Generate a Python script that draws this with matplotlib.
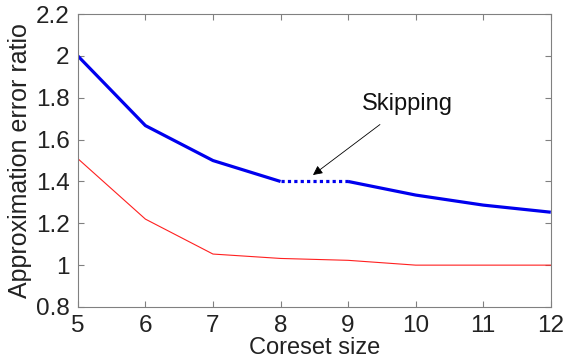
import matplotlib
matplotlib.use("Agg")
import numpy as np
import matplotlib.pyplot as plt

plt.rcParams['font.family'] = ['Liberation Sans', 'DejaVu Sans']

# coreset sizes and error ratios
sizes = [5, 6, 7, 8, 9, 10, 11, 12]
skip_ratio = [2.0, 1.667, 1.5, 1.4, 1.4, 1.335, 1.287, 1.253]
base_ratio = [1.509, 1.22, 1.053, 1.032, 1.023, 1.0, 1.0, 1.0]
yticks = [0.8, 1, 1.2, 1.4, 1.6, 1.8, 2, 2.2]
ytick_labels = ['0.8', '1', '1.2', '1.4', '1.6', '1.8', '2', '2.2']

fig = plt.figure(figsize=(5.81, 3.62), dpi=100)
ax = fig.add_axes([0.134, 0.152, 0.814, 0.809])

x = np.array(sizes)
y = np.array(skip_ratio)
ax.plot(x, base_ratio, color='#ff2020', lw=0.8)
# solid up to 8, dotted over the skipped step, solid again from 9
ax.plot(x[:4], y[:4], color='#0000ee', lw=2.3, solid_capstyle='butt')
ax.plot(x[3:5], y[3:5], color='#0000ee', lw=2.3, ls=(0, (1, 1)))
ax.plot(x[4:], y[4:], color='#0000ee', lw=2.3, solid_capstyle='butt')

ax.annotate('Skipping', xy=(8.48, 1.431), xytext=(9.2, 1.77),
            fontsize=17, va='center', ha='left', color='#111111',
            arrowprops=dict(arrowstyle='-|>', color='black', lw=0.6,
                            mutation_scale=14, shrinkA=8, shrinkB=0))

ax.set_xlim(5, 12)
ax.set_ylim(0.8, 2.2)
ax.set_xticks(sizes)
ax.set_yticks(yticks)
ax.set_yticklabels(ytick_labels)
ax.tick_params(direction='in', top=True, right=True, labelsize=17.5,
               color='#808080', labelcolor='#222222', length=4)
ax.tick_params(axis='x', pad=6)
ax.tick_params(axis='y', pad=6)
for s in ax.spines.values():
    s.set_color('#808080')
ax.set_xlabel('Coreset size', fontsize=17, labelpad=0, color='#222222')
ax.set_ylabel('Approximation error ratio', fontsize=18, labelpad=3, color='#222222')

fig.savefig('out.png', dpi=100)
